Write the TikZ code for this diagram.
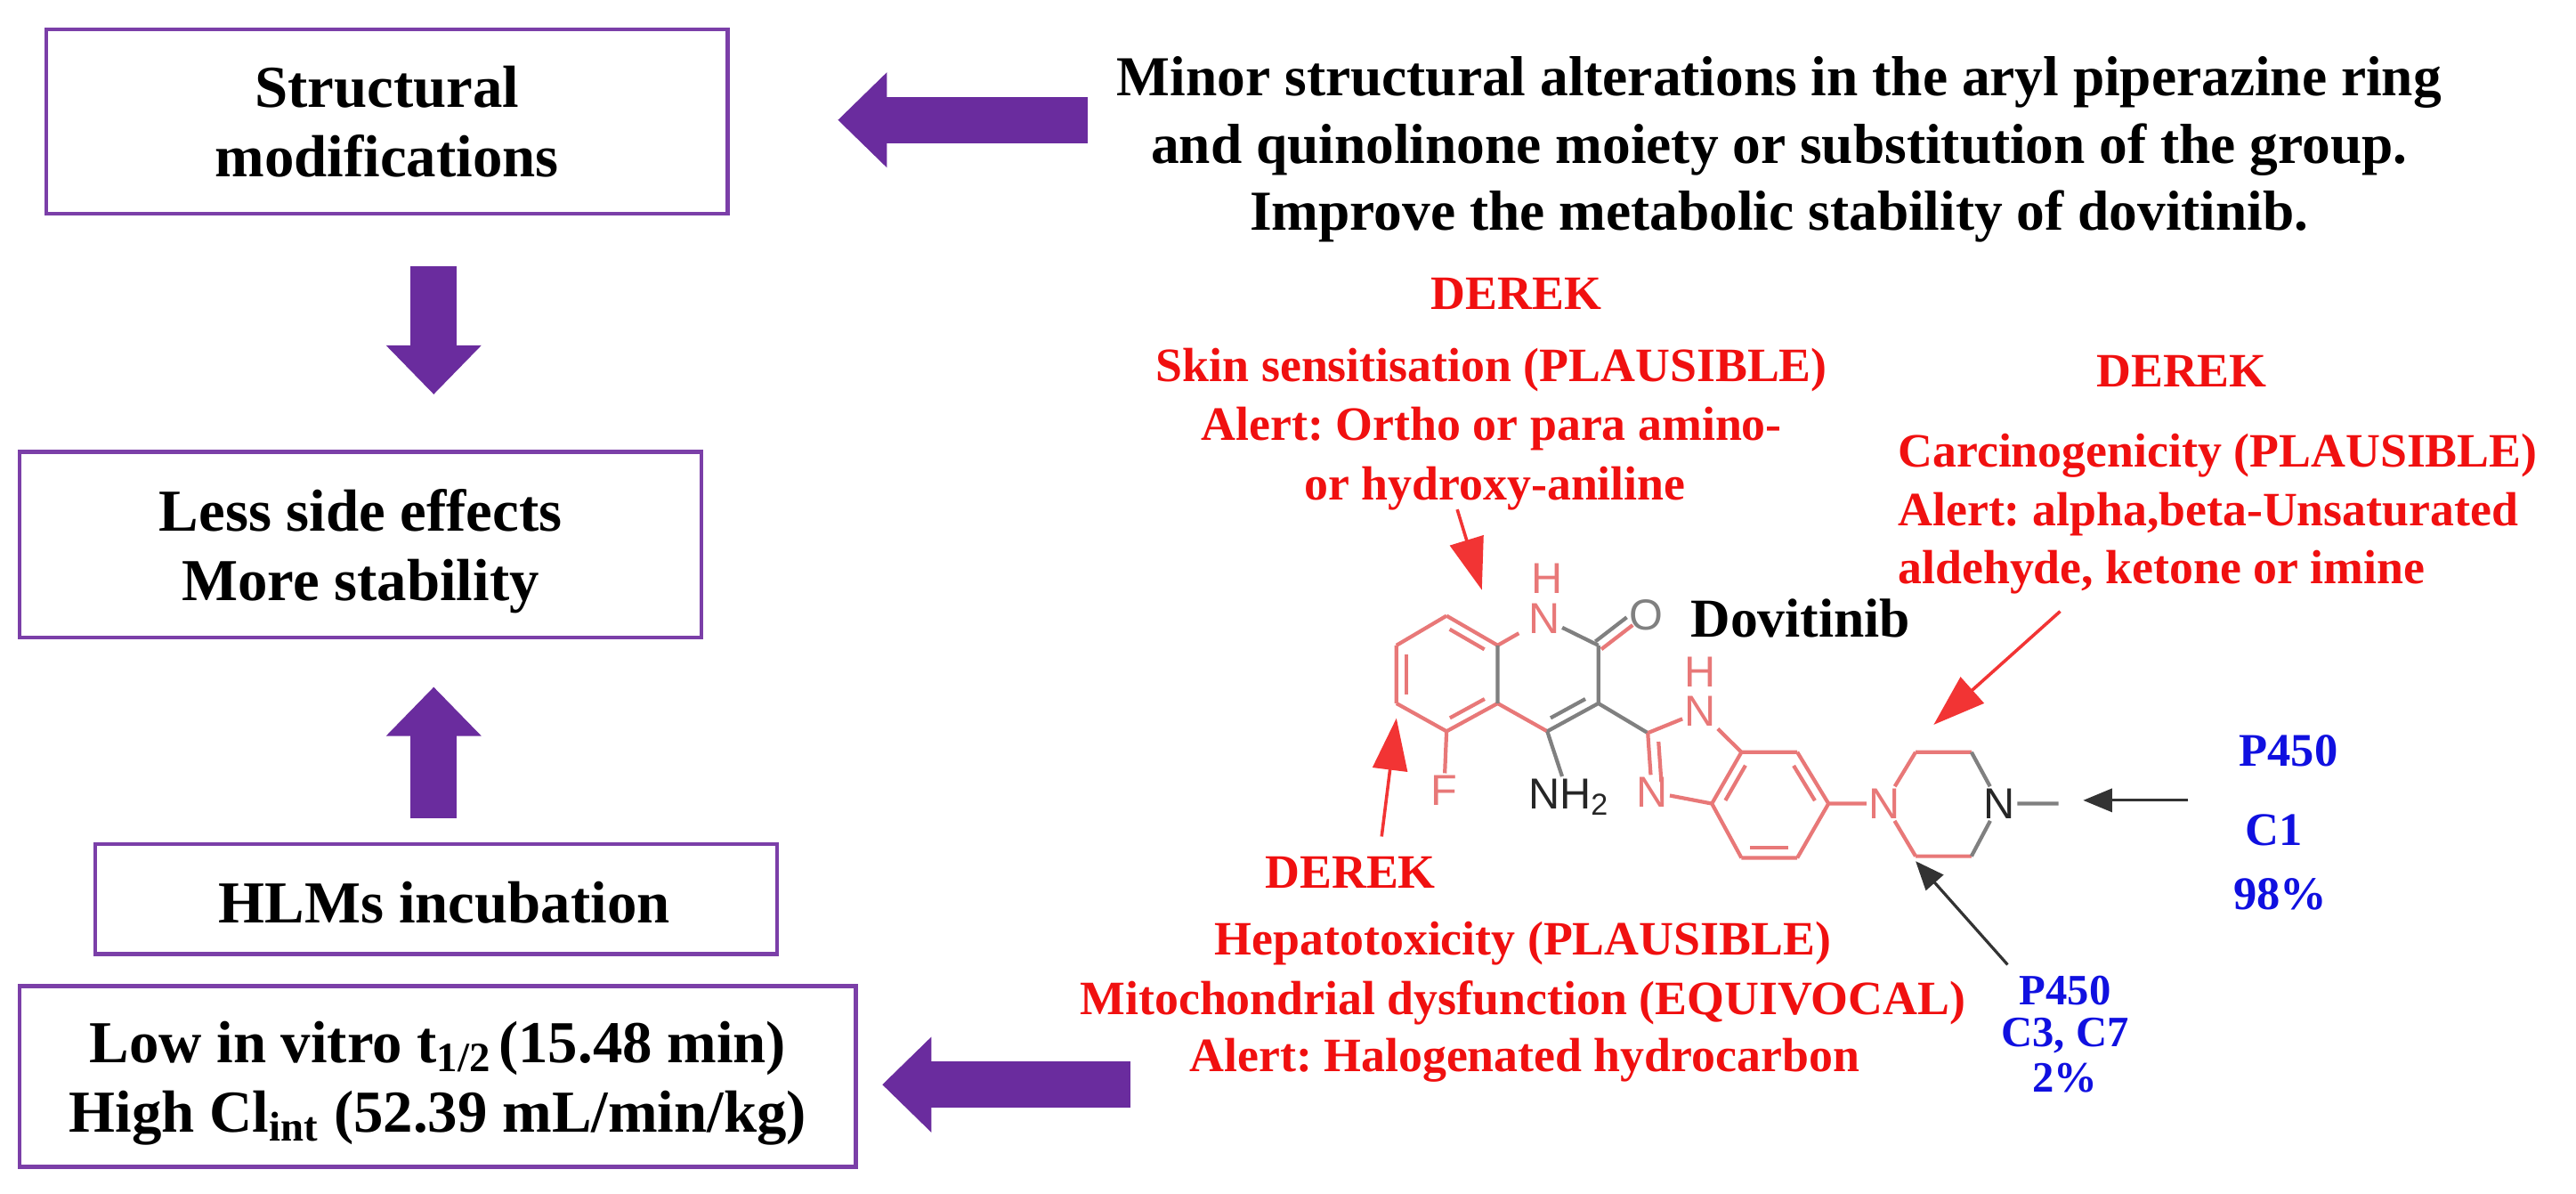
\documentclass[tikz,border=0pt]{standalone}
\usepackage{fontspec}
\setmainfont{Liberation Serif}
\newfontfamily\atomfont{Liberation Sans}
\usetikzlibrary{arrows.meta,calc}
\definecolor{boxpurple}{HTML}{7B3FA8}
\definecolor{arrowpurple}{HTML}{6A2C9E}
\definecolor{molred}{HTML}{E87878}
\definecolor{molgrey}{HTML}{808080}
\definecolor{alertred}{HTML}{F01010}
\definecolor{pblue}{HTML}{1010E0}
\tikzset{
  flowbox/.style={draw=boxpurple,line width=1.3pt,inner sep=0pt},
  boxtext/.style={inner sep=0pt,align=center,font=\bfseries\frenchspacing\fontsize{20.6}{24}\selectfont},
  headtext/.style={inner sep=0pt,align=center,font=\bfseries\frenchspacing\fontsize{19.55}{23.3}\selectfont},
  redtext/.style={inner sep=0pt,text=alertred,font=\bfseries\frenchspacing\fontsize{16.6}{20.5}\selectfont},
  bluetext/.style={inner sep=0pt,text=pblue,font=\bfseries\frenchspacing\fontsize{16.2}{18}\selectfont},
  bluesmall/.style={inner sep=0pt,text=pblue,font=\bfseries\frenchspacing\fontsize{15}{15}\selectfont},
  blockarrow/.style={draw=arrowpurple,line width=16pt,-{Triangle[length=17pt,width=32pt,color=arrowpurple]}},
  redarrow/.style={draw=alertred!85!white,line width=1.1pt,-{Triangle[length=18pt,width=12pt]},fill=alertred},
  blackarrow/.style={draw=black!80,line width=1pt,-{Triangle[length=10pt,width=8pt]},fill=black},
  redbond/.style={draw=molred,line width=1.3pt},
  greybond/.style={draw=molgrey,line width=1.3pt},
  atom/.style={inner sep=.6pt,font=\atomfont\fontsize{15}{15}\selectfont},
}
\newcommand{\innerbond}[4]{\draw[#4] ($(#1)!.16!(#2)!3.5pt!#3:(#2)$) -- ($(#1)!.84!(#2)!3.5pt!#3:(#2)$);}
\begin{document}
\begin{tikzpicture}[x=0.02cm,y=-0.02cm]
\useasboundingbox (0,0) rectangle (1568,726.5);
\fill[white] (0,0) rectangle (1568,726.5);
% boxes
\node[flowbox,minimum width=8.3cm,minimum height=2.24cm] (b1) at (235.5,74) {};
\node[flowbox,minimum width=8.3cm,minimum height=2.26cm] (b2) at (219.5,331.5) {};
\node[flowbox,minimum width=8.3cm,minimum height=1.34cm] (b3) at (265.5,547) {};
\node[flowbox,minimum width=10.18cm,minimum height=2.2cm] (b4) at (266.5,655) {};
\node[boxtext] (t1) at (235.5,74) {Structural\\modifications};
\node[boxtext] (t2) at (219.5,335.5) {Less side effects\\More stability};
\node[boxtext] (t3) at (270.5,549) {HLMs incubation};
\node[boxtext] (t4) at (266.5,659) {Low in vitro t\textsubscript{1/2}\hspace{.12em}(15.48 min)\\High Cl\textsubscript{int} (52.39 mL/min/kg)};
% heading
\node[headtext] (head) at (1083,91) {Minor structural alterations in the aryl piperazine ring\\and quinolinone moiety or substitution of the group.\\Improve the metabolic stability of dovitinib.};
% block arrows
\coordinate (a1s) at (662,73); \coordinate (a1e) at (510,73);
\coordinate (a2s) at (264,162); \coordinate (a2e) at (264,240);
\coordinate (a3s) at (264,498); \coordinate (a3e) at (264,418);
\coordinate (a4s) at (688,660); \coordinate (a4e) at (537,660);
\draw[blockarrow] (a1s) -- (a1e);
\draw[blockarrow] (a2s) -- (a2e);
\draw[blockarrow] (a3s) -- (a3e);
\draw[blockarrow] (a4s) -- (a4e);
% red texts
\node[redtext] (d1) at (923,179) {DEREK};
\node[redtext] (d1a) at (908,225) {Skin sensitisation (PLAUSIBLE)};
\node[redtext] (d1b) at (908,261) {Alert: Ortho or para amino-};
\node[redtext] (d1c) at (910,297) {or hydroxy-aniline};
\node[redtext] (d2) at (1328,226) {DEREK};
\node[redtext,anchor=west] (d2a) at (1155,277) {Carcinogenicity (PLAUSIBLE)};
\node[redtext,anchor=west] (d2b) at (1155,313) {Alert: alpha,beta-Unsaturated};
\node[redtext,anchor=west] (d2c) at (1155,348) {aldehyde, ketone or imine};
\node[redtext] (d3) at (822,531) {DEREK};
\node[redtext] (d3a) at (927,574) {Hepatotoxicity (PLAUSIBLE)};
\node[redtext] (d3b) at (927,610) {Mitochondrial dysfunction (EQUIVOCAL)};
\node[redtext] (d3c) at (928,645) {Alert: Halogenated hydrocarbon};
% blue texts
\node[bluetext] (p1) at (1393,457) {P450};
\node[bluetext] (p1b) at (1384,505) {C1};
\node[bluetext] (p1c) at (1388,544) {98\%};
\node[bluesmall] (p2) at (1257,603) {P450};
\node[bluesmall] (p2b) at (1257,630) {C3, C7};
\node[bluesmall] (p2c) at (1257,656) {2\%};
\node[inner sep=0pt,font=\bfseries\fontsize{19}{22}\selectfont] (dovi) at (1096,376) {Dovitinib};
% carbon positions
\coordinate (c8) at (880.5,374.7); \coordinate (c8a) at (911.6,392.7);
\coordinate (c4a) at (911.6,428); \coordinate (c5) at (880.5,445);
\coordinate (c6) at (850,428); \coordinate (c7) at (850,392.7);
\coordinate (c2) at (972.9,392.7); \coordinate (c3) at (972.9,428); \coordinate (c4) at (941.8,445);
\coordinate (ci) at (1003,446); \coordinate (c7x) at (1060,457.7); \coordinate (c6x) at (1094,457.7);
\coordinate (c5x) at (1113,489); \coordinate (c4x) at (1094,522); \coordinate (c3x) at (1060,522); \coordinate (c3a) at (1042,489);
\coordinate (pa) at (1166,457.7); \coordinate (pb) at (1200,457.7); \coordinate (pc) at (1200,521); \coordinate (pd) at (1166,521);
\coordinate (me) at (1253,489);
% atoms
\node[atom,text=molred] (n1) at (940,376.5) {N};
\node[atom,text=molred] (h1) at (941.8,352) {H};
\node[atom,text=molgrey] (o) at (1002,374) {O};
\node[atom,text=molred] (f) at (879,481) {F};
\node[atom,text=black!85] (nh2) at (955,485) {NH\textsubscript{2}};
\node[atom,text=molred] (n3) at (1035,433) {N};
\node[atom,text=molred] (h3) at (1035,409) {H};
\node[atom,text=molred] (n2) at (1005.5,482) {N};
\node[atom,text=molred] (n4) at (1147,489) {N};
\node[atom,text=black!85] (n5) at (1217,489) {N};
% bonds
\draw[redbond,shorten <=3pt] (n1) -- (c8a);
\draw[redbond] (c8) -- (c8a) (c8) -- (c7) (c7) -- (c6) (c6) -- (c5) (c5) -- (c4a) (c5) -- (f) (c4) -- (c4a);
\draw[greybond] (c8a) -- (c4a) (n1) -- (c2) (c2) -- (c3) (c3) -- (c4) (c4) -- (nh2) (c3) -- (ci);
\innerbond{c8}{c8a}{-90}{redbond}
\innerbond{c7}{c6}{90}{redbond}
\innerbond{c5}{c4a}{90}{redbond}
\innerbond{c3}{c4}{-90}{greybond}
\coordinate (oend) at (992,378);
\draw[greybond] ($(c2)!1.7pt!90:(oend)$) -- ($(oend)!1.7pt!-90:(c2)$);
\draw[redbond] ($(c2)!1.7pt!-90:(oend)$) -- ($(oend)!1.7pt!90:(c2)$);
\draw[redbond] (ci) -- (n3) (n3) -- (c7x) (n2) -- (c3a) (ci) -- (n2) (c7x) -- (c6x) (c6x) -- (c5x) (c5x) -- (c4x) (c4x) -- (c3x) (c3x) -- (c3a) (c3a) -- (c7x) (c5x) -- (n4) (n4) -- (pa) (pa) -- (pb) (n4) -- (pd) (pd) -- (pc);
\innerbond{ci}{n2}{90}{redbond}
\innerbond{c7x}{c3a}{90}{redbond}
\innerbond{c6x}{c5x}{-90}{redbond}
\innerbond{c4x}{c3x}{-90}{redbond}
\draw[greybond] (pb) -- (n5) (n5) -- (pc) (n5) -- (me);
% annotation arrows
\coordinate (r1s) at (887,310); \coordinate (r1e) at (902,359);
\coordinate (r2s) at (1254,372); \coordinate (r2e) at (1177,441);
\coordinate (r3s) at (841,509); \coordinate (r3e) at (850,437);
\coordinate (k1s) at (1332,487); \coordinate (k1e) at (1268,487);
\coordinate (k2s) at (1222,587); \coordinate (k2e) at (1166,524);
\draw[redarrow] (r1s) -- (r1e);
\draw[redarrow] (r2s) -- (r2e);
\draw[redarrow] (r3s) -- (r3e);
\draw[blackarrow] (k1s) -- (k1e);
\draw[blackarrow] (k2s) -- (k2e);
\end{tikzpicture}
\end{document}
